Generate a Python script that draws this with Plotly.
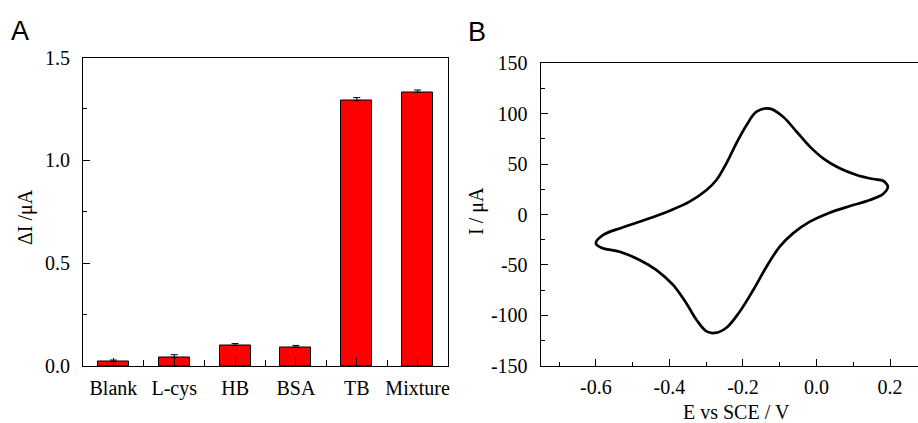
import plotly.graph_objects as go

# ---- Panel A data ----
categories = ["Blank", "L-cys", "HB", "BSA", "TB", "Mixture"]
delta_i = [0.022, 0.042, 0.100, 0.091, 1.290, 1.330]
delta_i_err = [0.007, 0.013, 0.009, 0.009, 0.015, 0.012]

# ---- Panel B data (cyclic voltammogram) ----
e_forward = [-0.600, -0.580, -0.526, -0.462, -0.399, -0.345, -0.299, -0.272,
             -0.245, -0.218, -0.190, -0.163, -0.127, -0.091, -0.054, -0.018,
             0.018, 0.063, 0.109, 0.154, 0.181, 0.190, 0.194]
i_forward = [-28.6, -20.3, -12.7, -4.8, 3.8, 12.7, 24.3, 34.2,
             50.8, 70.6, 88.8, 102.0, 105.0, 97.0, 82.1, 67.3,
             55.7, 45.8, 39.2, 35.2, 33.5, 30.5, 27.5]
e_reverse = [0.194, 0.181, 0.145, 0.091, 0.036, -0.018, -0.064, -0.100,
             -0.136, -0.172, -0.209, -0.245, -0.277, -0.299, -0.326, -0.354,
             -0.390, -0.435, -0.481, -0.535, -0.585, -0.600]
i_reverse = [27.5, 20.3, 14.4, 8.4, 1.8, -7.1, -18.7, -31.9,
             -51.8, -74.9, -96.4, -112.3, -117.5, -116.0, -104.7, -88.1,
             -69.9, -55.1, -45.1, -36.9, -32.9, -28.6]

y_ticks_a = [0.0, 0.5, 1.0, 1.5]
y_ticktext_a = ["0.0", "0.5", "1.0", "1.5"]
x_ticks_b = [-0.6, -0.4, -0.2, 0.0, 0.2]
x_ticktext_b = ["-0.6", "-0.4", "-0.2", "0.0", "0.2"]
y_ticks_b = [-150, -100, -50, 0, 50, 100, 150]
y_ticktext_b = ["-150", "-100", "-50", "0", "50", "100", "150"]

W, H = 918, 423
SERIF = "Liberation Serif, Times New Roman, serif"
SANS = "Liberation Sans, Arial, sans-serif"
FS = 20

fig = go.Figure()

fig.add_trace(go.Bar(
    x=list(range(len(categories))), y=delta_i, width=0.51,
    marker=dict(color="#FF0000", line=dict(color="black", width=1)),
    error_y=dict(type="data", array=delta_i_err,
                 arrayminus=[0] * len(delta_i_err), symmetric=False,
                 color="black", thickness=1, width=3.5),
    xaxis="x", yaxis="y", showlegend=False,
))

fig.add_trace(go.Scatter(
    x=e_forward + e_reverse[1:], y=i_forward + i_reverse[1:],
    mode="lines", line=dict(color="black", width=2.7, shape="spline", smoothing=1.0),
    xaxis="x2", yaxis="y2", showlegend=False,
))

axis_common = dict(showgrid=False, zeroline=False, showline=True,
                   linecolor="black", linewidth=1.2, ticks="inside",
                   tickcolor="black", tickwidth=1, automargin=False,
                   tickfont=dict(family=SERIF, size=FS, color="black"))

title_font = dict(family=SERIF, size=FS, color="black")

fig.update_layout(
    width=W, height=H,
    margin=dict(l=0, r=0, t=0, b=0),
    paper_bgcolor="white", plot_bgcolor="white",
    bargap=0,
    xaxis=dict(**axis_common, domain=[83 / W, 448 / W], range=[-0.5, 5.5],
               tickvals=list(range(len(categories))), ticktext=categories,
               ticklen=8, mirror=True, anchor="y",
               minor=dict(tick0=0.5, dtick=1, ticklen=6, ticks="inside",
                          tickcolor="black", tickwidth=1),
               ticklabelstandoff=4),
    yaxis=dict(**axis_common, domain=[(H - 366) / H, (H - 57.5) / H],
               range=[0, 1.5], tickvals=y_ticks_a, ticktext=y_ticktext_a,
               ticklen=7, mirror=True, anchor="x",
               minor=dict(tick0=0, dtick=0.25, ticklen=4, ticks="inside",
                          tickcolor="black", tickwidth=1),
               ticklabelstandoff=8),
    xaxis2=dict(**axis_common, domain=[540.7 / W, 1.0], range=[-0.75, 0.276],
                tickvals=x_ticks_b, ticktext=x_ticktext_b,
                ticklen=7, mirror=True, anchor="y2",
                minor=dict(tick0=-0.7, dtick=0.2, ticklen=4, ticks="inside",
                           tickcolor="black", tickwidth=1),
                ticklabelstandoff=3),
    yaxis2=dict(**axis_common, domain=[(H - 365.7) / H, (H - 63.3) / H],
                range=[-150, 150], tickvals=y_ticks_b, ticktext=y_ticktext_b,
                ticklen=7, mirror=False, anchor="x2",
                minor=dict(tick0=-125, dtick=50, ticklen=4, ticks="inside",
                           tickcolor="black", tickwidth=1),
                ticklabelstandoff=8),
    annotations=[
        dict(text="A", x=9 / W, y=1 - 14 / H, xref="paper", yref="paper",
             xanchor="left", yanchor="top", showarrow=False,
             font=dict(family=SANS, size=27, color="black")),
        dict(text="B", x=466 / W, y=1 - 15 / H, xref="paper", yref="paper",
             xanchor="left", yanchor="top", showarrow=False,
             font=dict(family=SANS, size=27, color="black")),
        dict(text="ΔI /μA", x=26 / W, y=1 - 217 / H, xref="paper", yref="paper",
             xanchor="center", yanchor="middle", textangle=-90, showarrow=False,
             font=title_font),
        dict(text="I / μA", x=477 / W, y=1 - 211 / H, xref="paper", yref="paper",
             xanchor="center", yanchor="middle", textangle=-90, showarrow=False,
             font=title_font),
        dict(text="E vs SCE / V", x=736 / W, y=1 - 412 / H, xref="paper", yref="paper",
             xanchor="center", yanchor="middle", showarrow=False,
             font=title_font),
    ],
)

fig.write_html("out.html")
